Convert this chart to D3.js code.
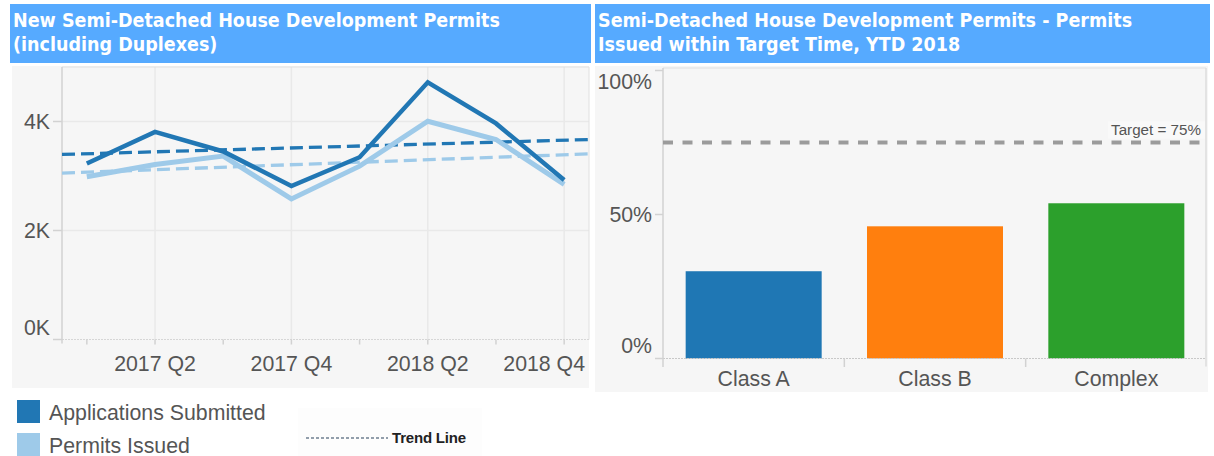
<!DOCTYPE html>
<html>
<head>
<meta charset="utf-8">
<script src="https://cdn.jsdelivr.net/npm/d3@7"></script>
<style>
  body { margin: 0; background: #fff; }
  text { font-family: "Liberation Sans", Arial, sans-serif; }
</style>
</head>
<body>
<svg id="chart" width="1214" height="456"></svg>
<script>
// data
let quarters = ['2017 Q1','2017 Q2','2017 Q3','2017 Q4','2018 Q1','2018 Q2','2018 Q3','2018 Q4']
let quarterLabels = ['2017 Q2','2017 Q4','2018 Q2','2018 Q4']
let applications = [3230, 3810, 3450, 2815, 3345, 4720, 3965, 2925]
let permits = [2985, 3210, 3365, 2580, 3180, 4005, 3670, 2845]
let countTicks = [0, 2000, 4000]

let classes = ['Class A', 'Class B', 'Complex']
let withinTarget = [0.303, 0.459, 0.539]
let classColors = ['#1f77b4', '#ff7f0e', '#2ca02c']
let pctTicks = [0, 0.5, 1]
let target = 0.75

let titles = [
    ['New Semi-Detached House Development Permits', '(including Duplexes)'],
    ['Semi-Detached House Development Permits - Permits', 'Issued within Target Time, YTD 2018']
]

let dark = '#2177b4'
let light = '#9ecae9'
let axisGrey = '#d2d2d2'
let labelGrey = '#555'
let fontSize = '21.3px'

let svg = d3.select('#chart')

// title bars + panel backgrounds
let bars = [[10, 581], [595, 615]]
bars.forEach((b, i) => {
    svg.append('rect').attr('x', b[0]).attr('y', 4).attr('width', b[1]).attr('height', 59).attr('fill', '#56aaff')
    let t = svg.append('text').attr('fill', '#fff')
        .style('font-family', '"DejaVu Sans Condensed", "DejaVu Sans", sans-serif')
        .style('font-weight', 'bold').style('font-size', '19.5px')
    titles[i].forEach((line, j) => {
        t.append('tspan').attr('x', b[0] + 3).attr('y', 27 + j * 24).text(line)
    })
})
svg.append('rect').attr('x', 12).attr('y', 66).attr('width', 577).attr('height', 322).attr('fill', '#f6f6f6')
svg.append('rect').attr('x', 595).attr('y', 66).attr('width', 613).attr('height', 326).attr('fill', '#f6f6f6')

// ---------- left: line chart ----------
let L = {left: 62, right: 589, top: 67, bottom: 339.5}

let x = d3.scalePoint().domain(quarters).range([L.left, L.right]).padding(0.364)
let y = d3.scaleLinear().domain([0, 5000]).range([L.bottom, L.top])

let left = svg.append('g')

// grid
left.selectAll('.hgrid').data(countTicks.filter(d => d > 0)).enter().append('line')
    .attr('x1', L.left).attr('x2', L.right)
    .attr('y1', d => y(d)).attr('y2', d => y(d))
    .attr('stroke', '#e9e9e9').attr('stroke-width', 1.5)
left.selectAll('.vgrid').data(quarterLabels).enter().append('line')
    .attr('x1', d => x(d)).attr('x2', d => x(d))
    .attr('y1', L.top).attr('y2', L.bottom)
    .attr('stroke', '#e9e9e9').attr('stroke-width', 1.5)

// frame
left.append('line').attr('x1', L.left).attr('x2', L.right).attr('y1', L.top).attr('y2', L.top).attr('stroke', '#e0e0e0')
left.append('line').attr('x1', L.right).attr('x2', L.right).attr('y1', L.top).attr('y2', L.bottom).attr('stroke', '#e0e0e0')
left.append('line').attr('x1', L.left).attr('x2', L.right).attr('y1', L.bottom).attr('y2', L.bottom)
    .attr('stroke', '#d6d6d6').attr('stroke-dasharray', '2,1')
left.append('line').attr('x1', L.left).attr('x2', L.left).attr('y1', L.top).attr('y2', L.bottom + 4)
    .attr('stroke', axisGrey).attr('stroke-width', 1.5)

// y axis ticks + labels
left.selectAll('.ytick').data(countTicks).enter().append('line')
    .attr('x1', L.left - 9).attr('x2', L.left)
    .attr('y1', d => y(d)).attr('y2', d => y(d))
    .attr('stroke', axisGrey).attr('stroke-width', 1.5)
left.selectAll('.ylab').data(countTicks).enter().append('text')
    .attr('x', 50).attr('y', d => y(d) + 7.5 - (d === 0 ? 12 : 0))
    .attr('text-anchor', 'end').attr('fill', labelGrey).style('font-size', fontSize)
    .text(d => d3.format('.0f')(d / 1000) + 'K')

// x axis ticks + labels (last label is kept inside the panel)
left.selectAll('.xtick').data(quarters).enter().append('line')
    .attr('x1', d => x(d)).attr('x2', d => x(d))
    .attr('y1', L.bottom).attr('y2', L.bottom + 5)
    .attr('stroke', axisGrey).attr('stroke-width', 1.5)
left.selectAll('.xlab').data(quarterLabels).enter().append('text')
    .attr('x', (d, i) => i === quarterLabels.length - 1 ? 585 : x(d)).attr('y', 371)
    .attr('text-anchor', (d, i) => i === quarterLabels.length - 1 ? 'end' : 'middle')
    .attr('fill', labelGrey).style('font-size', fontSize)
    .text(d => d)

// least-squares trend lines across the plot width
let trend = (vals) => {
    let n = vals.length
    let mx = (n - 1) / 2
    let my = d3.mean(vals)
    let num = d3.sum(vals, (v, i) => (i - mx) * (v - my))
    let den = d3.sum(vals, (v, i) => (i - mx) * (i - mx))
    let slope = num / den
    let idx = d3.scaleLinear().domain([x(quarters[0]), x(quarters[n - 1])]).range([0, n - 1])
    return [L.left, L.right].map(px => [px, y(my + slope * (idx(px) - mx))])
}

let line = d3.line().x((d, i) => x(quarters[i])).y(d => y(d))

left.append('path').datum(trend(permits)).attr('d', d3.line())
    .attr('fill', 'none').attr('stroke', light).attr('stroke-width', 3.3).attr('stroke-dasharray', '13,6')
left.append('path').datum(trend(applications)).attr('d', d3.line())
    .attr('fill', 'none').attr('stroke', dark).attr('stroke-width', 3.3).attr('stroke-dasharray', '13,6')
left.append('path').datum(permits).attr('d', line)
    .attr('fill', 'none').attr('stroke', light).attr('stroke-width', 5).attr('stroke-linejoin', 'miter')
left.append('path').datum(applications).attr('d', line)
    .attr('fill', 'none').attr('stroke', dark).attr('stroke-width', 4.5).attr('stroke-linejoin', 'miter')

// legend
let legendItems = [['Applications Submitted', dark], ['Permits Issued', light]]
legendItems.forEach((d, i) => {
    svg.append('rect').attr('x', 17).attr('y', 400 + i * 33).attr('width', 23).attr('height', 23).attr('fill', d[1])
    svg.append('text').attr('x', 49).attr('y', 419.5 + i * 33)
        .attr('fill', labelGrey).style('font-size', fontSize).text(d[0])
})
svg.append('rect').attr('x', 298).attr('y', 408).attr('width', 184).attr('height', 54).attr('fill', '#fdfdfd')
svg.append('line').attr('x1', 306).attr('x2', 388).attr('y1', 438).attr('y2', 438)
    .attr('stroke', '#6f7f90').attr('stroke-width', 1.5).attr('stroke-dasharray', '3,2')
svg.append('text').attr('x', 392).attr('y', 443).attr('fill', '#222')
    .style('font-size', '15px').style('font-weight', 'bold').style('letter-spacing', '-0.2px')
    .text('Trend Line')

// ---------- right: bar chart ----------
let R = {left: 663, right: 1206, top: 68, bottom: 358.5}

let xb = d3.scaleBand().domain(classes).range([R.left, R.right + 1]).paddingInner(0.25).paddingOuter(0.125)
let yb = d3.scaleLinear().domain([0, 1]).range([R.bottom, 70.5])

let right = svg.append('g')

right.append('line').attr('x1', R.left).attr('x2', R.right).attr('y1', R.top).attr('y2', R.top).attr('stroke', '#e0e0e0')
right.append('line').attr('x1', R.right).attr('x2', R.right).attr('y1', R.top).attr('y2', R.bottom + 8)
    .attr('stroke', '#dcdcdc').attr('stroke-width', 1.5)

right.selectAll('.bar').data(classes).enter().append('rect')
    .attr('x', d => xb(d)).attr('width', xb.bandwidth())
    .attr('y', (d, i) => yb(withinTarget[i]))
    .attr('height', (d, i) => R.bottom - yb(withinTarget[i]))
    .attr('fill', (d, i) => classColors[i])

right.append('line').attr('x1', R.left).attr('x2', R.right).attr('y1', R.bottom).attr('y2', R.bottom)
    .attr('stroke', '#c8c8c8').attr('stroke-dasharray', '2,1')
right.append('line').attr('x1', R.left).attr('x2', R.left).attr('y1', R.top).attr('y2', R.bottom + 8.5)
    .attr('stroke', axisGrey).attr('stroke-width', 1.5)

right.selectAll('.ytick').data(pctTicks).enter().append('line')
    .attr('x1', R.left - 8).attr('x2', R.left)
    .attr('y1', d => yb(d)).attr('y2', d => yb(d))
    .attr('stroke', axisGrey).attr('stroke-width', 1.5)
right.selectAll('.ylab').data(pctTicks).enter().append('text')
    .attr('x', 652).attr('y', d => yb(d) + 7.5 + (d === 0 ? -13 : d === 1 ? 11 : 0))
    .attr('text-anchor', 'end').attr('fill', labelGrey).style('font-size', fontSize)
    .text(d => d3.format('.0%')(d))

// category separators and labels
let step = xb.step()
right.selectAll('.xtick').data(classes.slice(1)).enter().append('line')
    .attr('x1', d => xb(d) - xb.paddingInner() * step / 2).attr('x2', d => xb(d) - xb.paddingInner() * step / 2)
    .attr('y1', R.bottom).attr('y2', R.bottom + 8.5)
    .attr('stroke', axisGrey).attr('stroke-width', 1.5)
right.selectAll('.xlab').data(classes).enter().append('text')
    .attr('x', d => xb(d) + xb.bandwidth() / 2).attr('y', 386)
    .attr('text-anchor', 'middle').attr('fill', labelGrey).style('font-size', fontSize)
    .text(d => d)

// target line
right.append('line').attr('x1', R.left).attr('x2', R.right)
    .attr('y1', yb(target)).attr('y2', yb(target))
    .attr('stroke', '#9b9b9b').attr('stroke-width', 4).attr('stroke-dasharray', '10,9.5')
right.append('rect').attr('x', 1108).attr('y', yb(target) - 21).attr('width', 97).attr('height', 17).attr('fill', '#f9f9f9')
right.append('text').attr('x', 1201).attr('y', yb(target) - 7.5)
    .attr('text-anchor', 'end').attr('fill', labelGrey).style('font-size', '15.2px')
    .text('Target = ' + d3.format('.0%')(target))
</script>
</body>
</html>
